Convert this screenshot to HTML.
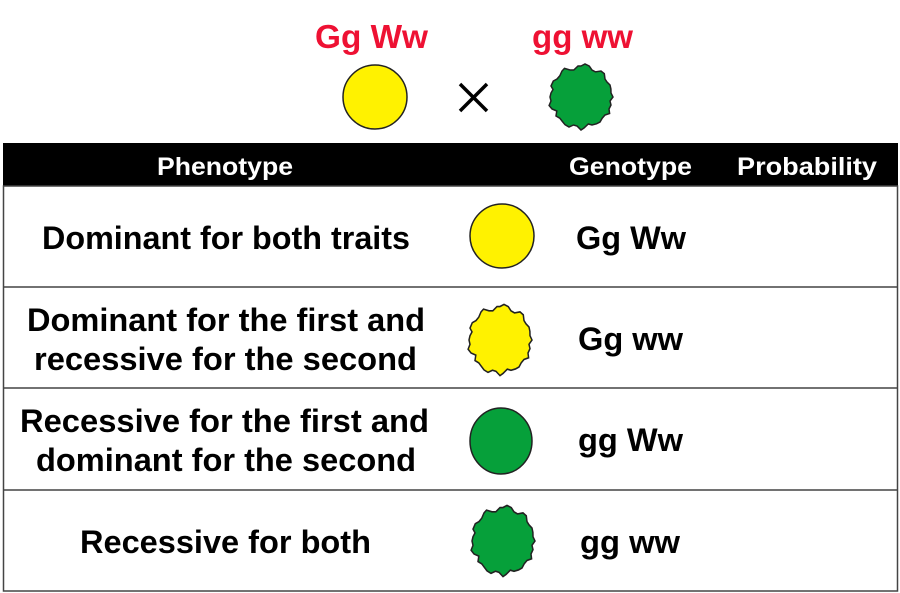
<!DOCTYPE html>
<html><head><meta charset="utf-8"><style>
html,body{margin:0;padding:0;background:#fff;}
svg{display:block;}
text{font-family:"Liberation Sans",Arial,sans-serif;font-weight:bold;}
</style></head><body>
<svg width="900" height="593" viewBox="0 0 900 593" xmlns="http://www.w3.org/2000/svg">
<defs>
<polygon id="wr" points="32,0 29,4 30,8 28,12 28.6,16.5 24,18 21.2,21.2 19,25 15.5,26.8 11,28 7.3,27 3,31 0,33 -4,29 -7.5,28 -12,30 -16,27.7 -19,24 -21.2,21.2 -25,19 -24.2,14 -29,12 -31.9,8.5 -30,4 -31,0 -30,-4 -28,-7.5 -30,-11 -27.7,-16 -24,-18 -21.2,-21.2 -19,-26 -16.5,-28.6 -11,-27 -7.2,-27 -3,-31 0,-31 4,-33 8.3,-30.9 11,-27 14.5,-25.1 20,-26 23.3,-23.3 24,-18 26,-15 29,-12 29.9,-8 30,-4"/>
</defs>
<g font-size="33" fill="#ee1133">
<text x="315" y="48" textLength="113" lengthAdjust="spacingAndGlyphs">Gg Ww</text>
<text x="532" y="48" textLength="101" lengthAdjust="spacingAndGlyphs">gg ww</text>
</g>
<circle cx="375" cy="97" r="32" fill="#fff200" stroke="#222" stroke-width="1.5"/>
<path d="M460 84 L487 111 M487 84 L460 111" stroke="#000" stroke-width="3.5"/>
<use href="#wr" transform="translate(581,97)" fill="#06a03a" stroke="#222" stroke-width="1.5"/>

<rect x="3" y="143" width="895" height="43" fill="#000"/>
<g font-size="25" fill="#fff">
<text x="157" y="175" textLength="136" lengthAdjust="spacingAndGlyphs">Phenotype</text>
<text x="569" y="175" textLength="123" lengthAdjust="spacingAndGlyphs">Genotype</text>
<text x="737" y="175" textLength="140" lengthAdjust="spacingAndGlyphs">Probability</text>
</g>

<g stroke="#444" stroke-width="1.5" fill="none">
<rect x="3.5" y="186" width="894" height="405"/>
<line x1="3" y1="287" x2="898" y2="287"/>
<line x1="3" y1="388" x2="898" y2="388"/>
<line x1="3" y1="490" x2="898" y2="490"/>
</g>

<g font-size="32" fill="#000">
<text x="42" y="249" textLength="368" lengthAdjust="spacingAndGlyphs">Dominant for both traits</text>
<text x="27" y="331" textLength="398" lengthAdjust="spacingAndGlyphs">Dominant for the first and</text>
<text x="34" y="370" textLength="383" lengthAdjust="spacingAndGlyphs">recessive  for the second</text>
<text x="20" y="432" textLength="409" lengthAdjust="spacingAndGlyphs">Recessive  for the first and</text>
<text x="36" y="471" textLength="380" lengthAdjust="spacingAndGlyphs">dominant for the second</text>
<text x="80" y="553" textLength="291" lengthAdjust="spacingAndGlyphs">Recessive  for both</text>
<text x="576" y="249" textLength="110" lengthAdjust="spacingAndGlyphs">Gg Ww</text>
<text x="578" y="350" textLength="105" lengthAdjust="spacingAndGlyphs">Gg ww</text>
<text x="578" y="451" textLength="105" lengthAdjust="spacingAndGlyphs">gg Ww</text>
<text x="580" y="553" textLength="100" lengthAdjust="spacingAndGlyphs">gg ww</text>
</g>

<circle cx="502" cy="236" r="32" fill="#fff200" stroke="#222" stroke-width="1.5"/>
<use href="#wr" transform="translate(500,340) scale(1.0,1.08)" fill="#fff200" stroke="#222" stroke-width="1.5"/>
<ellipse cx="501" cy="441" rx="31" ry="33" fill="#06a03a" stroke="#222" stroke-width="1.5"/>
<use href="#wr" transform="translate(503,541) scale(1.0,1.08)" fill="#06a03a" stroke="#222" stroke-width="1.5"/>
</svg>
</body></html>
